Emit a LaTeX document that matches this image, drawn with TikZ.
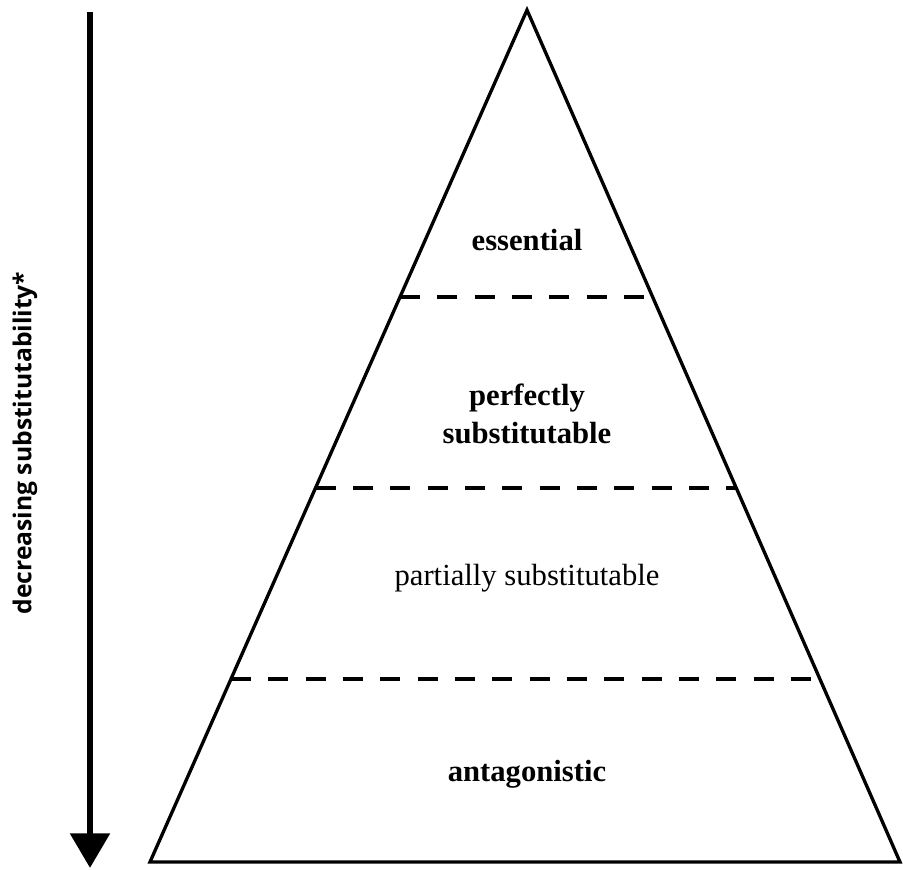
\documentclass[tikz,border=0pt]{standalone}
\usepackage{fontspec}
\setmainfont{Liberation Serif}
\newfontfamily\labelfont{Open Sans}
\usetikzlibrary{calc,arrows.meta}

\begin{document}
\begin{tikzpicture}[
x=0.75pt, y=-0.75pt,
edge/.style={draw=black, line width=2.5pt, line join=miter},
split/.style={draw=black, line width=2.8pt, dash pattern=on 15pt off 13pt},
level/.style={font=\fontsize{23}{28}\selectfont, align=center},
strong/.style={level, font=\fontsize{23}{28}\selectfont\bfseries},
trend/.style={draw=black, line width=5pt, -{Triangle[length=26pt, width=29pt]}},
]
\useasboundingbox (0,0) rectangle (903,870);
\coordinate (apex) at (527,10);
\coordinate (baseL) at (150,862);
\coordinate (baseR) at (900,862);
\draw[edge] (apex) -- (baseL) -- (baseR) -- cycle;
% dashed borders between the levels
\foreach \t/\n in {0.3369/a, 0.5610/b, 0.7852/c}{
  \coordinate (\n L) at ($(apex)!\t!(baseL)$);
  \coordinate (\n R) at ($(apex)!\t!(baseR)$);
  \draw[split] (\n L) -- (\n R);
}
\node[strong] (essential) at (527,240) {essential};
\node[strong] (perfect) at (527,414) {perfectly\\substitutable};
\node[level] (partial) at (527,578) {partially substitutable};
\node[strong] (antag) at (527,774) {antagonistic};
% arrow on the left
\coordinate (top) at (90,12);
\coordinate (tip) at (90,868);
\draw[trend] (top) -- (tip);
\node[rotate=90, font=\labelfont\bfseries\fontsize{18.5}{22}\selectfont] (axis) at (25,443) {decreasing substitutability*};
\end{tikzpicture}
\end{document}
